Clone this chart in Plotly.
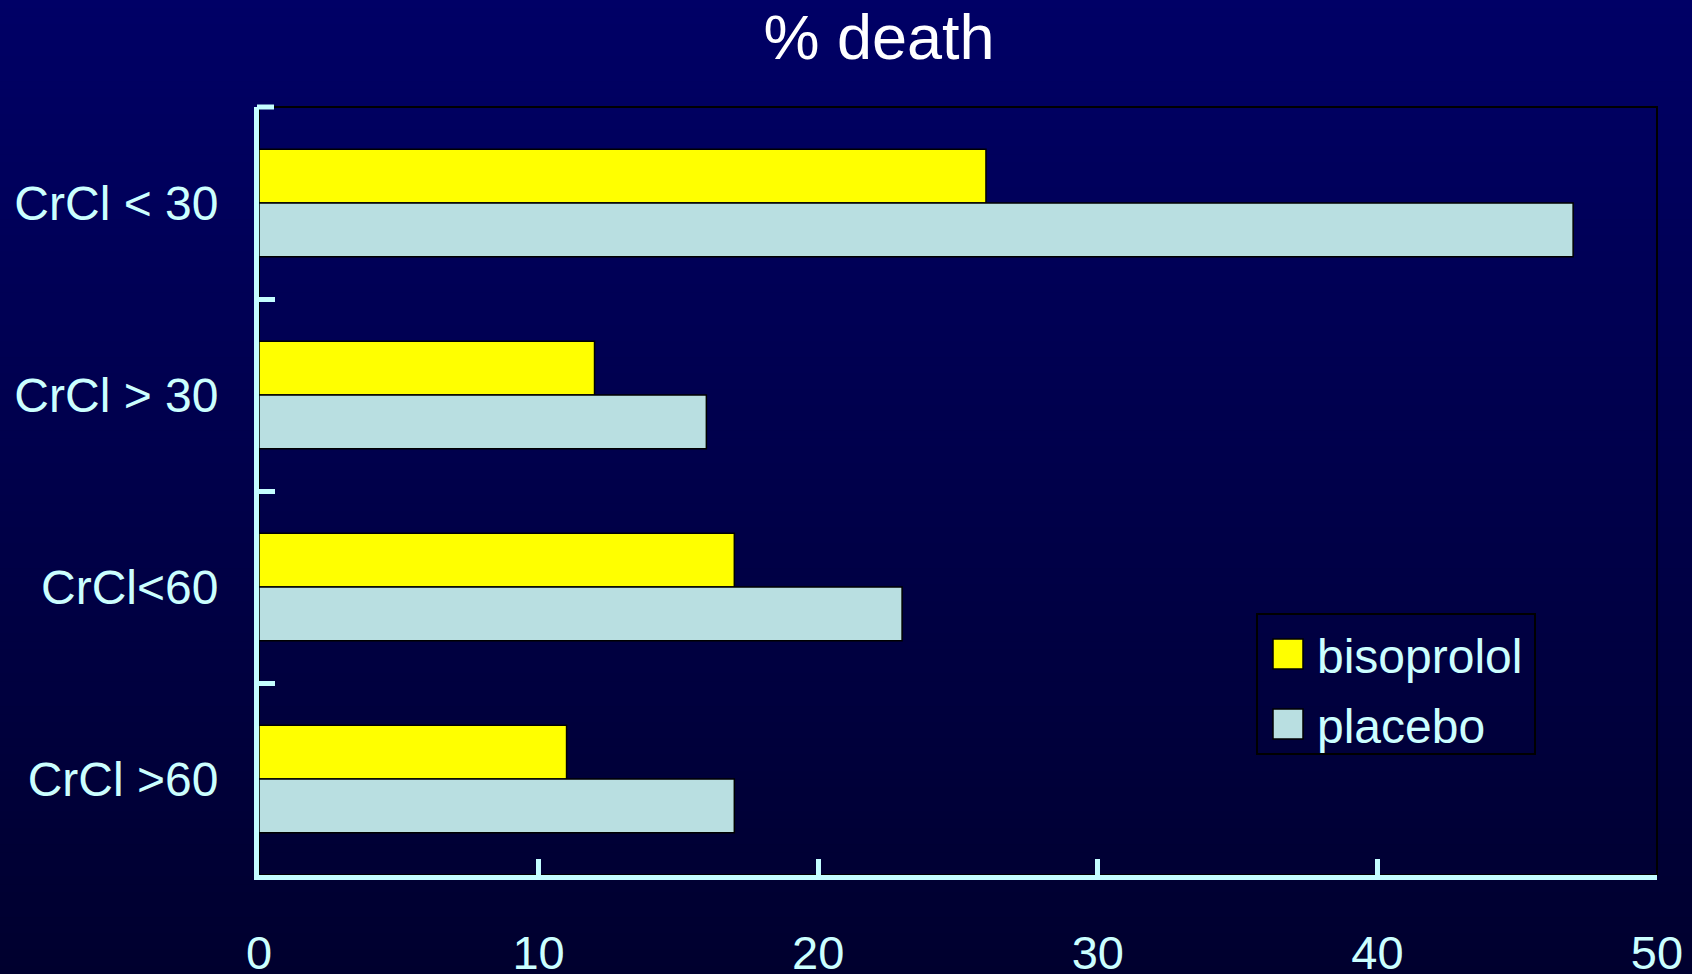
import plotly.graph_objects as go

categories = ["CrCl < 30", "CrCl > 30", "CrCl<60", "CrCl >60"]
series_names = ["bisoprolol", "placebo"]
bisoprolol = [26, 12, 17, 11]
placebo = [47, 16, 23, 17]
x_ticks = [0, 10, 20, 30, 40, 50]

colors = ["#ffff00", "#b9dfe1"]
axis_col = "#c4fdff"
label_col = "#ccffff"
FONT = "Liberation Sans, Arial, sans-serif"

W, H = 1692, 974
L, R, T, B = 259, 35, 107, 99

fig = go.Figure()
for name, vals, col in zip(series_names, [bisoprolol, placebo], colors):
    fig.add_trace(go.Bar(
        y=categories, x=vals, name=name, orientation="h",
        marker=dict(color=col, line=dict(color="#000000", width=1.5)),
        showlegend=False,
    ))

pw = W - L - R
ph = H - T - B

def px_to_paper_x(px):
    return (px - L) / pw

def px_to_paper_y(py):
    return (H - B - py) / ph

# background gradient (full figure) using paper-referenced bands
shapes = []
N = 120
top_rgb = (0, 0, 102)
bot_rgb = (0, 0, 46)
for i in range(N):
    f0 = i / N
    f1 = (i + 1) / N
    c = tuple(round(top_rgb[k] + (bot_rgb[k] - top_rgb[k]) * (f0 + f1) / 2) for k in range(3))
    shapes.append(dict(type="rect", xref="paper", yref="paper",
                       x0=px_to_paper_x(-5), x1=px_to_paper_x(W + 5),
                       y0=px_to_paper_y(f1 * H + 1), y1=px_to_paper_y(f0 * H),
                       fillcolor="rgb(%d,%d,%d)" % c, line=dict(width=0), layer="below"))
# plot frame (black) on top/right
shapes.append(dict(type="rect", xref="paper", yref="paper", x0=0, x1=1, y0=0, y1=1,
                   line=dict(color="#000000", width=2), fillcolor="rgba(0,0,0,0)", layer="below"))
# top end tick of the category axis
shapes.append(dict(type="line", xref="paper", yref="paper",
                   x0=px_to_paper_x(L - 2), x1=px_to_paper_x(L + 15), y0=1, y1=1,
                   line=dict(color=axis_col, width=5), layer="above"))

# custom legend
shapes.append(dict(type="rect", xref="paper", yref="paper",
                   x0=px_to_paper_x(1257), x1=px_to_paper_x(1535),
                   y0=px_to_paper_y(754), y1=px_to_paper_y(614),
                   line=dict(color="#000000", width=2), fillcolor="rgba(0,0,0,0)", layer="above"))
annotations = []
for i, (name, col) in enumerate(zip(series_names, colors)):
    cy = 654 + 70 * i
    shapes.append(dict(type="rect", xref="paper", yref="paper",
                       x0=px_to_paper_x(1273), x1=px_to_paper_x(1303),
                       y0=px_to_paper_y(cy + 15), y1=px_to_paper_y(cy - 15),
                       line=dict(color="#000000", width=1.5), fillcolor=col, layer="above"))
    annotations.append(dict(xref="paper", yref="paper", x=px_to_paper_x(1315), y=px_to_paper_y(cy + 2),
                            text=name, showarrow=False, xanchor="left", yanchor="middle",
                            font=dict(family=FONT, size=48, color=label_col)))

fig.update_layout(
    width=W, height=H,
    margin=dict(l=L, r=R, t=T, b=B, pad=0, autoexpand=False),
    paper_bgcolor="#000040",
    plot_bgcolor="rgba(0,0,0,0)",
    barmode="group",
    bargap=0.44,
    bargroupgap=0,
    title=dict(text="% death", x=879 / W, xanchor="center", y=1 - 37 / H, yanchor="middle",
               font=dict(family=FONT, size=63, color="#ffffff")),
    shapes=shapes,
    annotations=annotations,
    xaxis=dict(range=[0, 50], tickvals=x_ticks, ticktext=[str(v) for v in x_ticks],
               showgrid=False, zeroline=False, automargin=False,
               showline=True, linecolor=axis_col, linewidth=5,
               ticks="inside", ticklen=16, tickwidth=5, tickcolor=axis_col,
               ticklabelstandoff=33,
               tickfont=dict(family=FONT, size=47, color=label_col)),
    yaxis=dict(range=[3.5, -0.5], autorange=False, type="category",
               showgrid=False, zeroline=False, automargin=False,
               showline=True, linecolor=axis_col, linewidth=5,
               ticks="inside", ticklen=16, tickwidth=5, tickcolor=axis_col,
               tickson="boundaries", ticklabelstandoff=26,
               tickfont=dict(family=FONT, size=48, color=label_col)),
)

fig.write_html("out.html")
